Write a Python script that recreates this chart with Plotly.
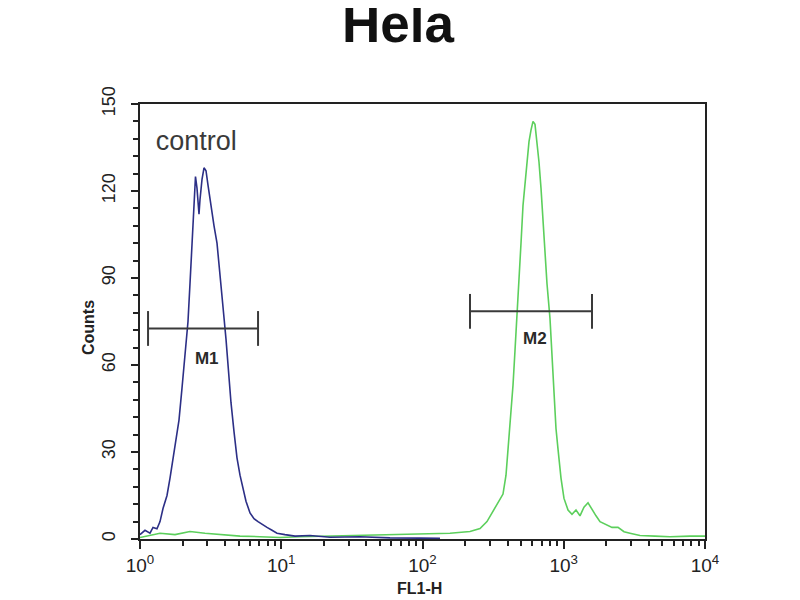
import plotly.graph_objects as go

# ---- data ----
control_fl1 = [1.000, 1.085, 1.177, 1.236, 1.319, 1.386, 1.455, 1.553, 1.631, 1.713,
               1.799, 1.888, 1.983, 2.083, 2.187, 2.259, 2.334, 2.412, 2.471, 2.532,
               2.616, 2.659, 2.748, 2.839, 2.933, 3.030, 3.182, 3.342, 3.509, 3.685,
               3.869, 4.062, 4.198, 4.408, 4.629, 4.860, 5.105, 5.360, 5.628, 6.009,
               6.414, 6.846, 7.305, 7.929, 8.602, 9.330, 10.63, 12.51, 15.98, 22.14,
               36.10, 58.88, 96.0, 133.0]
control_counts = [1.5, 3, 2, 4, 3.5, 6, 10.5, 15, 21, 28,
                  34, 41, 52, 63, 75, 88, 103, 118, 125, 121,
                  112, 117, 124, 128, 127, 122, 114, 108, 102, 92,
                  80, 69, 59, 47, 37, 28, 22, 17, 13, 9,
                  7, 6, 5, 4, 3, 2, 1.5, 1, 1.2, 0.6,
                  0.8, 0.4, 0.3, 0.2]

sample_fl1 = [1.000, 1.177, 1.386, 1.769, 2.259, 2.885, 3.685, 5.105, 7.072, 9.80,
              13.57, 22.14, 36.10, 58.88, 96.0, 156.5, 216.9, 255.4, 286.1, 315.6,
              342.4, 371.5, 390.1, 403.0, 423.2, 437.2, 451.7, 466.6, 482.1, 498.1,
              514.6, 531.6, 549.3, 567.5, 586.3, 605.7, 625.8, 646.5, 667.9, 690.1,
              712.9, 736.6, 761.0, 799.2, 825.7, 853.1, 881.4, 910.6, 956.1, 1004,
              1072, 1144, 1221, 1303, 1391, 1485, 1585, 1692, 1806, 1991,
              2196, 2422, 2671, 2944, 3466, 4426, 5652, 7831, 10000]
sample_counts = [0.5, 1.2, 2, 1.5, 2.6, 2, 1.5, 1, 0.8, 0.5,
                 0.8, 1, 1.2, 1.5, 1.8, 2, 2.6, 3.6, 6, 9.5,
                 12.5, 15.5, 22, 31, 43, 53, 65, 76, 88, 102,
                 115, 123, 131, 137, 141, 144, 143, 137, 130, 121,
                 110, 99, 88, 76, 64, 49, 38, 31, 21, 14,
                 10, 8.5, 10, 8, 11, 12.5, 10, 8, 6, 5,
                 4, 4, 2.5, 2, 1.2, 1, 0.8, 1, 1]

gate_names = ["M1", "M2"]
gate_lo = [1.14, 217]
gate_hi = [6.85, 1585]
gate_level = [72.6, 78.5]
gate_cap = [6, 6]
gate_label_x = [2.97, 625]
gate_label_y = [61.7, 68.6]

control_label = "control"
control_label_x = 2.5
control_label_y = 136.5

x_major = [1, 10, 100, 1000, 10000]
x_major_text = ["10<sup>0</sup>", "10<sup>1</sup>", "10<sup>2</sup>", "10<sup>3</sup>", "10<sup>4</sup>"]
x_minor = [m * d for d in (1, 10, 100, 1000) for m in range(2, 10)]
y_major = [0, 30, 60, 90, 120, 150]

FONT = "Liberation Sans, Arial, sans-serif"

fig = go.Figure()

fig.add_trace(go.Scatter(x=sample_fl1, y=sample_counts, mode="lines",
                         line=dict(color="#5ccf5c", width=1.6), hoverinfo="skip"))
fig.add_trace(go.Scatter(x=control_fl1, y=control_counts, mode="lines",
                         line=dict(color="#2c2f86", width=1.6), hoverinfo="skip"))

# gates
for lo, hi, lvl, cap in zip(gate_lo, gate_hi, gate_level, gate_cap):
    fig.add_trace(go.Scatter(
        x=[lo, hi, None, lo, lo, None, hi, hi],
        y=[lvl, lvl, None, lvl - cap, lvl + cap, None, lvl - cap, lvl + cap],
        mode="lines", line=dict(color="#3a3a3a", width=2), hoverinfo="skip"))

fig.add_trace(go.Scatter(x=gate_label_x, y=gate_label_y,
                         text=["<b>" + n + "</b>" for n in gate_names], mode="text",
                         textfont=dict(family=FONT, size=17, color="#2a2a2a"),
                         hoverinfo="skip"))
fig.add_trace(go.Scatter(x=[control_label_x], y=[control_label_y], text=[control_label],
                         mode="text", textfont=dict(family=FONT, size=27, color="#3a3a3a"),
                         hoverinfo="skip"))

# page body has an 8px margin, so the figure is 8px smaller and margins shifted
fig.update_layout(
    width=792, height=592,
    margin=dict(l=132, r=95, t=96, b=61, autoexpand=False),
    paper_bgcolor="white", plot_bgcolor="white",
    showlegend=False,
    font=dict(family=FONT, color="#222222"),
    xaxis=dict(type="log", range=[0, 4], tickmode="array", tickvals=x_major,
               ticktext=x_major_text, ticks="outside", ticklen=8, tickwidth=2,
               tickcolor="#222", showline=True, linewidth=2, linecolor="#222",
               mirror=True, showgrid=False, zeroline=False,
               tickfont=dict(size=19, color="#222"),
               minor=dict(tickmode="array", tickvals=x_minor, ticks="outside",
                          ticklen=5, tickwidth=2, tickcolor="#222", showgrid=False)),
    yaxis=dict(range=[0, 150], tickmode="array", tickvals=y_major,
               ticks="outside", ticklen=7, tickwidth=2, tickcolor="#222",
               showline=True, linewidth=2, linecolor="#222", mirror=True,
               showgrid=False, zeroline=False, tickangle=-90,
               ticklabelstandoff=9,
               tickfont=dict(size=18, color="#222"),
               minor=dict(dtick=6, tick0=0, ticks="outside", ticklen=5,
                          tickwidth=2, tickcolor="#222", showgrid=False)),
    annotations=[
        dict(text="<b>Hela</b>", xref="paper", yref="paper", x=0.457, y=1.185,
             xanchor="center", yanchor="middle", showarrow=False,
             font=dict(family=FONT, size=53, color="#111")),
        dict(text="<b>FL1-H</b>", xref="paper", yref="paper", x=0.494, y=-0.113,
             xanchor="center", yanchor="middle", showarrow=False,
             font=dict(family=FONT, size=16, color="#222")),
        dict(text="<b>Counts</b>", xref="paper", yref="paper", x=-0.092, y=0.485,
             xanchor="center", yanchor="middle", showarrow=False, textangle=-90,
             font=dict(family=FONT, size=16, color="#222")),
    ],
)

fig.write_html("out.html")
